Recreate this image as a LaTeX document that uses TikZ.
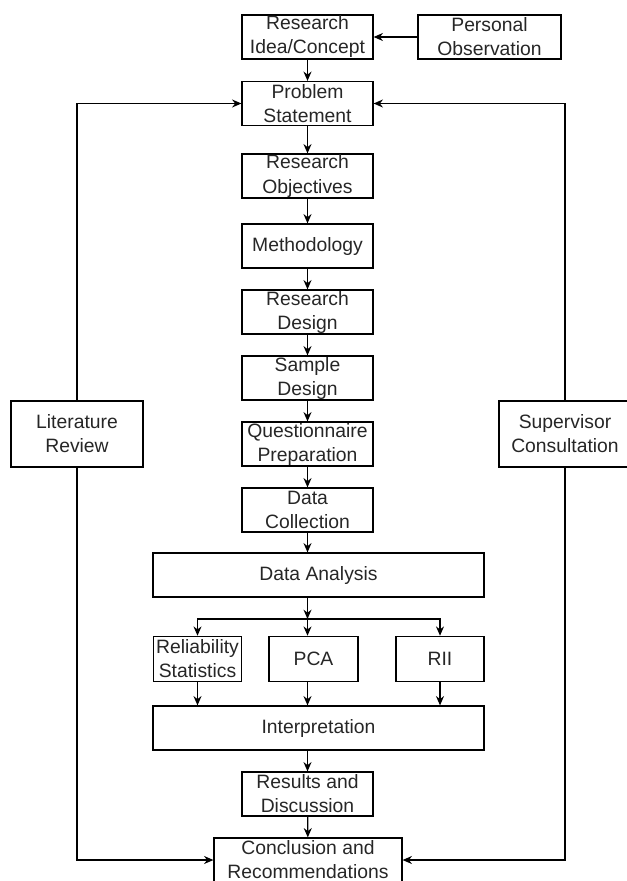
\documentclass[tikz,border=0pt]{standalone}
\usepackage{fontspec}
\setmainfont{Liberation Sans}
\usetikzlibrary{
	arrows.meta,
	positioning
}

\begin{document}
\begin{tikzpicture}[>={Stealth[length=7pt,width=6pt]},x=0.75pt,y=-0.75pt,
	box/.style={draw,line width=0.9pt,inner sep=0pt,align=center,
		minimum width=98.25pt,minimum height=33pt,
		font=\fontsize{14.5pt}{18pt}\selectfont,text=black!85},
	widebox/.style={box,minimum width=248.25pt},
	smallbox/.style={box,minimum width=66pt,minimum height=34pt},
	sidebox/.style={box,minimum width=99pt,minimum height=49.5pt},
	link/.style={->,line width=0.9pt}]
	
	\useasboundingbox (0,0) rectangle (627,881);
	
	%---------------- Main column ----------------%
	
	\node[box] (idea) at (307.5,37) {Research\\Idea/Concept};
	\node[box,minimum width=107.25pt] (obs) at (489.5,37) {Personal\\Observation};
	\node[box] (prob) at (307.5,103.5) {Problem\\Statement};
	\node[box] (obj) at (307.5,176) {Research\\Objectives};
	\node[box] (meth) at (307.5,246) {Methodology};
	\node[box] (rdes) at (307.5,312) {Research\\Design};
	\node[box] (sdes) at (307.5,378) {Sample\\Design};
	\node[box] (quest) at (307.5,444) {Questionnaire\\Preparation};
	\node[box] (coll) at (307.5,510) {Data\\Collection};
	\node[widebox] (anal) at (318.5,575) {Data Analysis};
	
	\draw[link] (obs) -- (idea);
	\draw[link] (idea) -- (prob);
	\draw[link] (prob) -- (obj);
	\draw[link] (obj) -- (meth);
	\draw[link] (meth) -- (rdes);
	\draw[link] (rdes) -- (sdes);
	\draw[link] (sdes) -- (quest);
	\draw[link] (quest) -- (coll);
	\draw[link] (coll) -- (coll |- anal.north);
	
	%---------------- Analysis ----------------%
	
	\coordinate (split) at (307.5,619);
	
	\node[smallbox] (rel) at (197.5,659) {Reliability\\Statistics};
	\node[smallbox,minimum width=66.75pt] (pca) at (313.5,659) {PCA};
	\node[smallbox] (rii) at (440,659) {RII};
	
	\node[widebox] (interp) at (318.5,728) {Interpretation};
	\node[box] (res) at (307.5,794) {Results and\\Discussion};
	\node[box,minimum width=141pt] (conc) at (308,860) {Conclusion and\\Recommendations};
	
	\draw[link] (split |- anal.south) -- (split);
	\draw[link] (split) -| (rel.north);
	\draw[link] (split) -- (split |- pca.north);
	\draw[link] (split) -| (rii.north);
	
	\draw[link] (rel.south) -- (rel.south |- interp.north);
	\draw[link] (split |- pca.south) -- (split |- interp.north);
	\draw[link] (rii.south) -- (rii.south |- interp.north);
	\draw[link] (res.north |- interp.south) -- (res.north);
	\draw[link] (res) -- (conc);
	
	%---------------- Feedback ----------------%
	
	\node[sidebox] (lit) at (77,434) {Literature\\Review};
	\node[sidebox] (sup) at (565,434) {Supervisor\\Consultation};
	
	\draw[link] (lit.north) |- (prob.west);
	\draw[link] (lit.south) |- (conc.west);
	\draw[link] (sup.north) |- (prob.east);
	\draw[link] (sup.south) |- (conc.east);
	
\end{tikzpicture}
\end{document}
